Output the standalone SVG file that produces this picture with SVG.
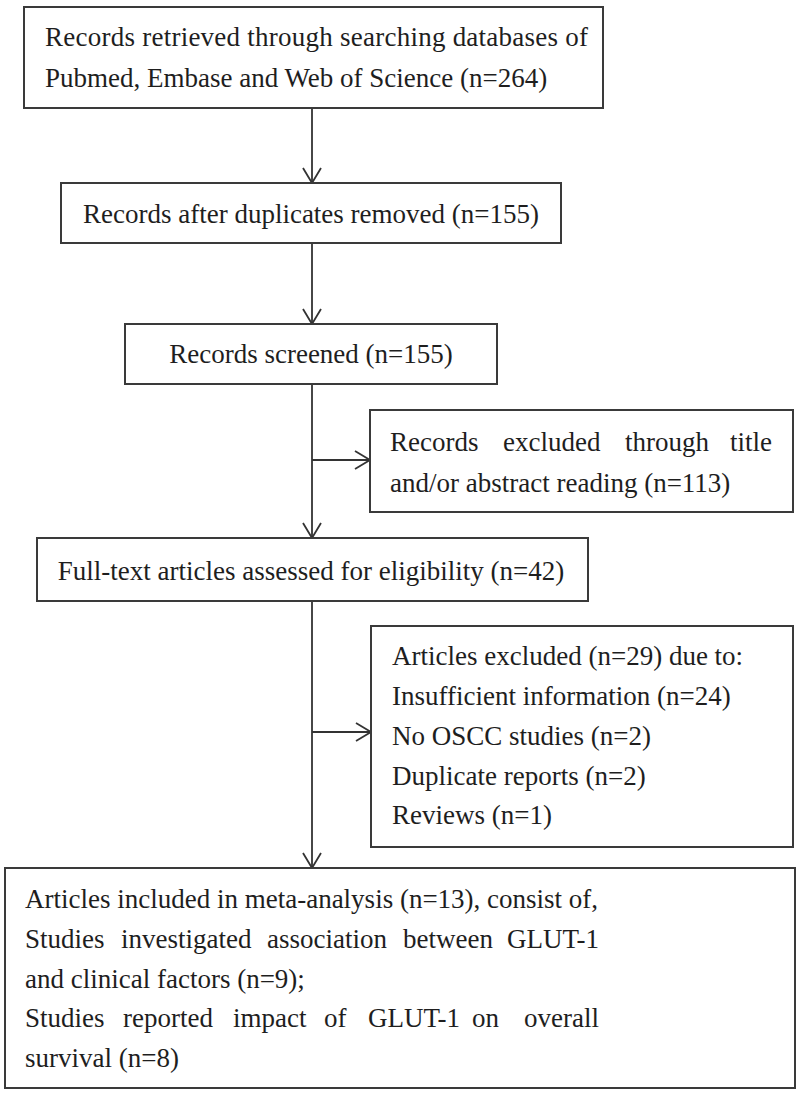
<svg xmlns="http://www.w3.org/2000/svg" width="800" height="1098" viewBox="0 0 800 1098">
<style>
.box{fill:#fff;stroke:#3a3a3a;stroke-width:2}
.t{font-family:"Liberation Serif","Times New Roman",serif;font-size:27px;fill:#1e1e1e}
.c{text-anchor:middle}
.e{text-anchor:end}
.ln{fill:none;stroke:#333;stroke-width:1.8}
</style>
<defs>
<marker id="arr" markerUnits="userSpaceOnUse" markerWidth="20" markerHeight="22" viewBox="-16 -11 18 22" refX="0" refY="0" orient="auto">
<path d="M-15,-9 L0,0 L-15,9" fill="none" stroke="#333" stroke-width="1.8"/>
</marker>
</defs>
<rect width="800" height="1098" fill="#fff"/>
<g id="connectors">
<line class="ln" x1="312" y1="108" x2="312" y2="183" marker-end="url(#arr)"/>
<line class="ln" x1="312" y1="243" x2="312" y2="324" marker-end="url(#arr)"/>
<line class="ln" x1="312" y1="384" x2="312" y2="538" marker-end="url(#arr)"/>
<line class="ln" x1="312" y1="460" x2="370" y2="460" marker-end="url(#arr)"/>
<line class="ln" x1="312" y1="601" x2="312" y2="868" marker-end="url(#arr)"/>
<line class="ln" x1="312" y1="732" x2="371" y2="732" marker-end="url(#arr)"/>
</g>
<g id="n1">
<rect class="box" x="24" y="7" width="579" height="101"/>
<text class="t" x="45" y="46" textLength="543" lengthAdjust="spacing">Records retrieved through searching databases of</text>
<text class="t" x="45" y="87">Pubmed, Embase and Web of Science (n=264)</text>
</g>
<g id="n2">
<rect class="box" x="61" y="183" width="500" height="60"/>
<text class="t c" x="311" y="223">Records after duplicates removed (n=155)</text>
</g>
<g id="n3">
<rect class="box" x="125" y="324" width="372" height="60"/>
<text class="t c" x="311" y="363">Records screened (n=155)</text>
</g>
<g id="n4">
<rect class="box" x="370" y="410" width="423" height="102"/>
<text class="t" y="451"><tspan x="390">Records</tspan><tspan x="503">excluded</tspan><tspan x="625">through</tspan></text>
<text class="t e" x="772" y="451">title</text>
<text class="t" x="390" y="492">and/or abstract reading (n=113)</text>
</g>
<g id="n5">
<rect class="box" x="37" y="538" width="551" height="63"/>
<text class="t c" x="311" y="580">Full-text articles assessed for eligibility (n=42)</text>
</g>
<g id="n6">
<rect class="box" x="371" y="626" width="422" height="221"/>
<text class="t" x="392" y="665">Articles excluded (n=29) due to:</text>
<text class="t" x="392" y="705">Insufficient information (n=24)</text>
<text class="t" x="392" y="745">No OSCC studies (n=2)</text>
<text class="t" x="392" y="785">Duplicate reports (n=2)</text>
<text class="t" x="392" y="824">Reviews (n=1)</text>
</g>
<g id="n7">
<rect class="box" x="5" y="868" width="790" height="220"/>
<text class="t" x="25" y="908">Articles included in meta-analysis (n=13), consist of,</text>
<text class="t" y="948"><tspan x="25">Studies</tspan><tspan x="121">investigated</tspan><tspan x="267">association</tspan><tspan x="403">between</tspan></text>
<text class="t e" x="599" y="948">GLUT-1</text>
<text class="t" x="25" y="988">and clinical factors (n=9);</text>
<text class="t" y="1027"><tspan x="25">Studies</tspan><tspan x="123">reported</tspan><tspan x="233">impact</tspan><tspan x="324">of</tspan><tspan x="368">GLUT-1</tspan><tspan x="472">on</tspan></text>
<text class="t e" x="599" y="1027">overall</text>
<text class="t" x="25" y="1067">survival (n=8)</text>
</g>
</svg>
